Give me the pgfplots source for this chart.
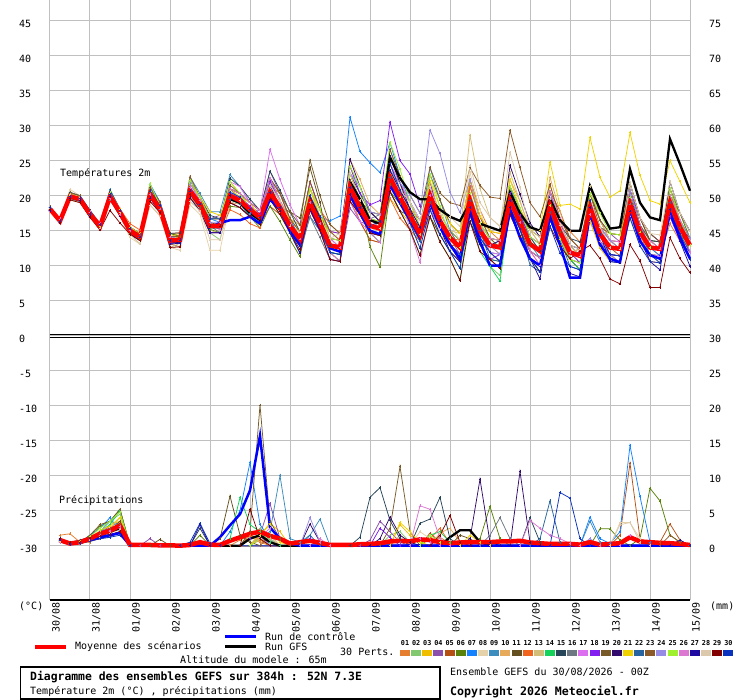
\documentclass[border=0pt]{standalone}
\usepackage{pgfplots}
\usepackage{pgfplotstable}
\pgfplotsset{compat=1.18}
\usepackage{fontspec}
\setmainfont{DejaVu Sans Mono}
\definecolor{gridgray}{RGB}{192,192,192}
\definecolor{ctrlblue}{RGB}{0,0,255}
\definecolor{meanred}{RGB}{255,0,0}
\definecolor{c01}{RGB}{230,126,48}
\definecolor{c02}{RGB}{130,200,110}
\definecolor{c03}{RGB}{240,190,0}
\definecolor{c04}{RGB}{140,80,170}
\definecolor{c05}{RGB}{180,80,20}
\definecolor{c06}{RGB}{90,130,10}
\definecolor{c07}{RGB}{20,130,255}
\definecolor{c08}{RGB}{230,210,170}
\definecolor{c09}{RGB}{60,140,190}
\definecolor{c10}{RGB}{230,170,90}
\definecolor{c11}{RGB}{100,80,30}
\definecolor{c12}{RGB}{240,100,30}
\definecolor{c13}{RGB}{210,190,120}
\definecolor{c14}{RGB}{20,210,90}
\definecolor{c15}{RGB}{40,70,90}
\definecolor{c16}{RGB}{110,120,130}
\definecolor{c17}{RGB}{220,110,240}
\definecolor{c18}{RGB}{130,30,240}
\definecolor{c19}{RGB}{120,90,40}
\definecolor{c20}{RGB}{50,10,110}
\definecolor{c21}{RGB}{240,210,0}
\definecolor{c22}{RGB}{40,100,160}
\definecolor{c23}{RGB}{140,90,40}
\definecolor{c24}{RGB}{150,140,230}
\definecolor{c25}{RGB}{160,240,50}
\definecolor{c26}{RGB}{220,120,210}
\definecolor{c27}{RGB}{30,10,160}
\definecolor{c28}{RGB}{220,200,170}
\definecolor{c29}{RGB}{130,0,0}
\definecolor{c30}{RGB}{10,50,190}
\newcommand\ft{\fontsize{10pt}{12pt}\selectfont}
\pgfplotsset{mem/.style={line width=0.75pt, mark=+, mark size=1.4pt, mark options={line width=0.5pt}}}

% 2 m temperature, one row per run, 6-hourly from 30/08 00Z to 15/09 00Z
\pgfplotstableread[header=false]{
p01 18.1 16.7 20.4 19.8 17.6 15.6 20.4 17.6 15.5 14.6 19.7 18.1 14.6 14.2 21.7 19.8 16.7 16.7 19.0 18.3 17.0 15.9 21.5 20.3 16.7 15.8 21.0 17.0 14.9 13.6 20.2 16.3 13.7 13.3 24.6 20.8 18.1 16.5 18.0 15.4 13.0 11.6 22.3 18.0 14.9 13.6 17.3 14.2 11.1 10.1 19.6 16.8 14.9 13.4 16.3 13.5 11.6 10.4 20.8 15.8 12.6 11.4 16.0 13.5 10.9
p02 18.1 16.1 19.4 19.2 17.1 15.1 20.2 18.1 15.3 14.1 21.2 18.6 13.1 13.2 19.7 17.8 14.7 13.7 19.0 19.3 18.0 15.9 22.5 19.3 14.7 11.8 18.0 15.0 11.9 11.6 23.2 21.3 17.7 17.3 26.6 21.8 17.1 13.5 17.0 14.4 12.0 9.6 17.3 13.0 9.9 8.6 18.3 16.2 14.1 12.1 20.6 15.8 11.9 10.4 19.3 14.5 11.6 10.4 16.8 13.8 13.6 13.4 22.0 17.5 13.9
p03 18.3 16.4 20.4 19.5 17.4 15.9 19.4 17.6 15.0 13.6 20.7 18.6 14.1 14.7 21.2 18.8 16.7 16.7 22.0 20.3 19.0 16.9 19.5 17.3 14.7 12.8 20.0 17.0 14.9 14.6 21.2 17.3 14.7 13.3 19.6 17.8 16.1 14.5 23.0 19.4 16.0 14.6 20.3 15.0 12.9 11.6 21.3 18.2 15.1 14.1 21.6 16.8 11.9 11.4 16.3 12.5 10.6 10.4 19.8 16.8 14.6 13.4 21.0 16.5 12.9
p04 17.9 16.6 20.2 19.7 17.7 15.9 19.9 17.1 14.5 14.1 19.2 17.6 13.6 14.2 22.2 19.8 16.7 17.2 21.0 20.3 18.0 17.9 23.5 20.3 16.7 13.8 17.0 15.0 11.9 10.6 18.2 16.3 15.7 16.3 23.6 20.8 19.1 16.5 21.0 16.4 14.0 11.6 17.3 14.0 11.9 10.6 20.3 17.2 14.1 13.1 17.6 13.8 10.9 9.4 20.3 16.5 14.6 13.4 17.8 13.8 11.6 10.4 20.0 15.5 11.9
p05 18.1 16.4 19.6 19.3 17.2 15.3 19.4 17.1 14.5 13.6 20.7 18.1 13.1 12.7 19.7 18.3 15.7 15.7 20.5 19.3 17.0 15.9 18.5 17.3 15.7 14.8 21.0 18.0 13.9 12.6 19.2 16.3 13.7 13.3 23.6 21.8 19.1 15.5 19.0 15.4 13.0 12.6 21.3 17.0 13.9 13.6 18.3 14.2 12.1 11.1 20.6 17.8 13.9 12.4 17.3 14.5 12.6 11.4 21.8 16.8 13.6 12.4 20.0 17.5 14.9
p06 18.4 16.6 19.9 19.7 17.4 15.6 20.4 18.1 15.5 14.6 21.2 18.6 14.6 14.2 20.7 18.8 15.2 14.7 18.5 18.3 17.0 15.4 18.5 16.3 13.7 11.3 18.0 16.0 11.9 10.6 22.2 19.3 12.7 9.8 20.6 18.8 16.1 14.5 21.0 17.4 15.0 13.6 17.3 13.0 10.9 10.6 19.3 17.2 15.1 14.1 19.6 14.8 10.9 10.4 21.3 16.5 13.6 12.4 17.8 13.8 11.6 11.4 21.0 17.5 13.9
p07 17.8 16.2 20.3 20.0 17.9 16.1 20.4 17.6 15.0 14.1 21.7 19.1 14.1 13.7 21.7 19.8 16.7 16.2 20.0 18.8 17.5 15.9 21.5 19.3 16.7 13.8 20.0 17.0 16.4 17.1 31.2 26.3 24.7 23.3 27.6 22.8 19.1 16.5 19.0 15.4 13.0 10.6 16.3 13.0 12.9 13.6 21.3 17.2 12.1 11.1 17.6 14.8 12.9 12.4 18.3 13.5 10.6 10.4 20.8 15.8 12.6 11.4 18.0 14.5 11.9
p08 18.1 16.7 20.9 20.0 17.7 15.6 19.6 17.1 14.0 13.1 19.2 17.6 12.6 12.2 18.7 17.3 12.2 12.2 19.0 18.3 18.0 16.9 21.5 19.3 14.7 12.8 20.0 18.0 14.9 13.6 24.2 20.3 15.7 14.3 22.6 19.8 16.1 12.5 22.0 19.4 16.0 13.6 23.3 18.0 12.9 12.6 18.3 15.2 11.1 10.1 16.6 13.8 10.9 10.4 19.3 15.5 13.6 13.4 18.8 14.8 13.6 12.4 17.0 14.5 12.9
p09 18.3 16.4 20.1 19.5 17.4 15.1 20.9 18.1 15.5 14.1 20.2 18.1 13.6 13.7 22.7 20.3 17.7 17.7 23.0 21.3 19.0 17.9 22.5 19.3 15.7 12.8 17.0 15.0 12.9 12.6 22.2 19.3 16.7 15.3 21.6 19.8 17.1 15.5 24.0 19.4 15.0 12.6 18.3 14.0 11.9 11.6 20.3 16.2 13.1 11.1 20.6 15.8 12.9 11.4 17.3 13.5 11.6 11.4 19.8 14.8 12.6 12.4 18.0 13.5 10.9
p10 17.9 16.1 19.4 19.0 16.9 15.1 19.9 17.6 15.0 14.6 19.7 17.6 14.1 14.2 19.7 18.8 15.7 15.7 19.0 18.8 18.5 17.4 19.5 17.3 16.7 14.8 19.0 16.0 13.9 13.6 25.2 22.3 18.7 17.3 22.6 18.8 16.1 13.5 18.0 14.4 13.0 11.6 20.3 16.0 13.9 12.6 22.3 19.2 15.1 13.1 22.6 17.8 12.9 11.4 19.3 14.5 12.6 12.4 16.8 12.8 11.6 11.4 19.0 15.5 12.9
p11 18.1 16.2 19.9 19.3 17.1 15.6 19.4 17.3 14.7 13.6 20.5 18.6 13.6 13.2 21.2 18.8 16.2 15.7 21.0 20.3 19.0 17.9 20.5 18.3 17.7 16.8 24.0 19.0 11.9 11.6 19.2 17.3 16.7 16.3 24.6 20.8 18.1 14.5 17.0 14.4 12.0 10.6 19.3 15.0 11.9 10.6 20.3 17.2 13.1 12.1 17.6 13.8 10.9 9.4 19.3 15.5 13.6 13.4 21.8 16.8 13.6 13.4 18.0 14.5 12.9
p12 18.4 16.7 19.7 19.5 17.7 16.1 19.9 18.1 16.0 15.1 20.2 18.1 14.6 14.7 20.2 17.8 14.7 14.7 18.0 17.3 16.0 15.4 21.5 19.3 16.7 14.8 22.0 18.0 15.9 14.6 23.2 19.3 14.7 14.3 19.6 16.8 15.1 13.5 20.0 16.4 14.0 13.6 21.3 17.0 14.9 14.6 19.3 15.2 12.1 10.1 17.6 13.8 11.9 12.4 20.3 16.5 13.6 12.4 17.8 14.8 10.6 10.4 18.0 14.5 11.9
p13 17.8 16.1 20.1 19.8 17.4 15.6 20.2 17.9 14.5 13.1 18.7 17.1 12.6 13.2 21.2 19.3 14.7 15.2 21.0 20.3 18.0 16.9 22.0 19.3 16.7 15.8 21.0 18.0 14.9 14.6 24.2 21.3 17.7 16.3 25.6 21.8 17.1 14.5 22.0 17.4 15.0 14.6 28.6 21.0 16.9 15.6 23.3 19.2 15.1 13.1 19.6 14.8 11.9 12.4 21.3 16.5 13.6 13.4 19.8 14.8 12.6 12.4 21.0 16.5 13.9
p14 18.1 16.6 20.2 19.8 17.7 15.6 20.2 17.6 15.0 14.1 20.7 18.1 14.1 13.7 20.7 19.3 15.7 16.2 19.5 19.3 17.0 15.9 19.5 17.3 14.7 12.8 19.0 16.0 11.9 11.6 21.2 17.3 14.7 13.3 20.6 17.8 15.1 11.5 17.0 13.4 11.0 7.9 17.3 12.0 9.9 7.8 18.3 15.2 11.1 9.1 16.6 12.8 10.9 9.4 17.3 13.5 11.6 10.4 18.8 14.8 12.6 12.4 20.0 16.5 12.9
p15 18.3 16.7 20.5 20.0 17.9 15.9 20.7 18.1 15.5 14.6 21.2 19.1 14.6 14.7 22.2 19.8 17.2 16.7 22.5 21.3 19.5 17.9 23.5 20.8 17.7 14.8 20.0 16.0 12.9 12.6 23.2 20.3 17.7 16.3 20.6 17.8 17.1 13.5 21.0 16.4 14.0 12.6 18.3 14.0 13.9 13.6 21.3 18.2 14.1 12.1 18.6 15.8 13.9 13.4 19.3 14.5 12.6 12.4 20.8 15.8 13.6 13.4 19.0 15.5 13.9
p16 17.9 16.4 19.6 19.2 17.1 15.3 19.4 17.1 14.5 13.6 19.7 18.1 13.1 13.7 20.7 18.8 15.7 14.7 21.0 19.3 18.0 16.9 22.5 19.3 14.7 11.8 17.0 14.0 10.9 10.6 22.2 19.3 16.7 17.3 23.6 19.8 18.1 15.5 18.0 15.4 15.0 12.6 19.3 16.0 13.9 13.6 17.3 14.2 12.1 11.1 19.6 15.8 10.9 10.4 17.3 14.5 12.6 12.4 18.8 13.8 11.6 11.4 20.0 15.5 11.9
p17 18.1 16.4 19.9 19.5 17.6 16.1 20.4 18.1 15.5 14.1 21.2 19.1 14.1 14.2 21.7 19.8 16.7 16.7 22.0 21.3 19.0 17.9 26.6 22.3 18.7 15.8 20.0 16.0 13.9 12.6 19.2 16.3 14.7 13.3 24.6 21.8 19.1 16.5 20.0 16.4 13.0 11.6 20.3 15.0 11.9 11.6 17.3 14.2 12.1 10.1 19.6 15.8 11.9 11.4 19.3 15.5 13.6 13.4 17.8 13.8 11.6 11.4 18.0 14.5 10.9
p18 18.1 16.6 19.7 19.5 17.4 15.3 19.9 17.6 15.0 14.1 19.7 17.6 13.1 13.7 21.2 19.3 15.7 15.7 20.0 19.8 18.5 17.4 22.0 19.3 15.7 14.8 22.0 18.0 14.9 14.6 24.2 20.3 18.7 19.3 30.5 25.0 23.1 18.5 22.0 16.4 13.0 11.6 17.3 13.0 10.9 11.6 20.3 17.2 14.1 13.1 16.6 13.8 11.9 10.4 18.3 14.5 11.6 11.4 20.8 16.8 14.6 13.4 17.0 13.5 11.9
p19 18.3 16.4 20.1 19.7 17.4 15.6 19.7 17.6 15.0 13.8 20.5 18.1 13.6 13.7 20.2 18.3 16.7 16.7 21.5 20.3 19.0 17.9 22.5 20.3 17.7 15.8 25.1 20.0 15.9 14.6 22.2 18.3 14.7 14.3 21.6 18.8 17.1 15.5 23.0 19.4 16.0 14.6 22.3 17.0 13.9 12.6 18.3 15.2 12.1 11.1 18.6 14.8 11.9 11.4 20.3 16.5 14.6 14.4 21.8 16.8 14.6 13.4 21.0 16.5 13.9
p20 17.9 16.2 19.9 19.2 16.9 15.6 19.9 17.1 15.0 14.6 20.7 18.6 13.6 13.2 19.7 17.8 14.7 14.7 20.0 19.3 18.0 16.4 19.5 17.8 15.7 13.8 18.0 15.0 13.9 13.6 25.2 21.3 17.7 16.3 25.6 21.8 18.1 13.5 19.0 15.4 12.0 10.6 16.3 13.0 12.9 13.6 24.3 20.2 16.1 14.1 20.6 15.8 12.9 12.4 17.3 13.5 11.6 11.4 19.8 15.8 12.6 12.4 22.0 17.5 14.9
p21 18.1 16.4 20.4 19.8 17.7 15.9 20.4 18.1 15.5 14.6 20.2 18.1 13.6 14.2 21.7 19.8 17.7 17.2 21.0 19.8 19.0 16.9 20.5 18.3 16.7 14.8 21.0 17.0 13.9 13.6 23.2 19.3 16.7 15.3 23.6 19.8 18.1 15.5 22.0 18.4 16.0 14.6 22.3 17.0 14.9 14.6 22.3 18.2 15.1 15.1 24.8 18.6 18.8 18.1 28.3 22.6 19.8 20.7 29.0 22.9 19.3 18.8 25.0 22.0 19.0
p22 18.1 16.1 19.6 19.2 17.4 15.6 19.9 17.9 15.0 14.4 20.2 18.1 14.1 14.2 21.2 18.8 15.7 15.7 19.5 18.8 17.0 15.9 20.5 18.3 14.7 12.8 18.0 15.0 11.9 11.6 20.2 18.3 15.7 15.3 22.6 18.8 16.1 13.5 19.0 15.4 13.0 11.6 19.3 15.0 10.9 10.6 18.3 15.2 10.1 9.1 17.6 13.8 9.9 9.4 18.3 15.5 12.6 12.4 19.8 14.8 11.6 10.4 19.0 14.5 11.9
p23 18.4 16.7 20.4 20.0 17.4 15.6 20.4 17.9 14.5 14.1 21.2 19.1 14.1 14.2 22.7 19.8 16.7 16.7 21.0 20.3 19.0 17.9 22.5 20.3 16.7 14.8 22.0 18.0 14.9 13.6 23.2 19.3 17.7 17.3 26.6 22.8 20.1 17.5 24.0 20.4 19.0 18.6 24.0 21.5 19.8 19.6 29.3 24.0 19.0 17.0 21.6 16.8 13.9 12.4 20.3 15.5 14.6 14.4 20.8 15.8 13.6 12.4 20.0 15.5 12.9
p24 17.8 16.4 19.9 19.7 17.4 15.9 19.9 17.6 15.3 14.1 20.7 18.1 13.6 13.7 21.7 19.3 16.2 16.2 20.5 19.3 18.0 16.9 22.5 19.3 15.7 12.8 19.0 16.0 13.9 13.6 23.2 21.3 17.7 17.3 23.6 21.8 20.1 17.5 29.4 26.0 20.5 17.6 22.3 16.0 12.9 11.6 18.3 15.2 14.1 13.1 20.6 15.8 11.9 11.4 18.3 15.5 13.6 12.4 20.8 15.8 12.6 12.4 20.0 16.5 13.9
p25 18.1 16.4 20.1 19.5 17.6 15.6 20.4 17.6 15.0 14.1 21.7 18.6 13.6 13.7 22.2 19.8 16.7 16.7 22.0 20.3 18.0 16.9 21.5 18.3 15.7 14.8 21.0 18.0 13.9 13.6 24.2 21.3 16.7 16.3 27.6 23.8 19.1 15.5 23.0 18.4 14.0 12.6 20.3 16.0 13.9 13.6 21.3 18.2 14.1 13.1 18.6 13.8 10.9 10.4 20.3 17.5 14.6 14.4 19.8 14.8 12.6 12.4 21.0 16.5 12.9
p26 18.1 16.7 20.2 19.5 17.7 15.9 19.6 17.3 15.0 14.1 20.2 18.6 14.1 13.7 21.2 19.3 15.7 15.2 21.0 20.3 19.0 17.9 22.5 19.3 15.7 13.8 20.0 16.0 11.9 10.6 21.2 19.3 16.7 15.3 24.6 20.8 15.1 10.5 18.0 15.4 13.0 10.6 18.3 14.0 13.9 13.6 19.3 16.2 12.1 11.1 20.6 16.8 11.9 11.4 17.3 13.5 11.6 10.4 17.8 13.8 13.6 12.4 20.0 16.5 11.9
p27 17.9 16.1 19.7 19.3 17.1 15.3 19.9 17.6 14.5 13.6 19.7 17.6 13.1 13.2 20.7 18.8 14.7 14.7 19.0 18.3 17.0 15.9 21.5 18.3 14.7 11.8 18.0 15.0 10.9 10.6 20.2 17.3 14.7 14.3 23.6 20.8 18.1 15.5 21.0 16.4 13.0 10.6 17.3 13.0 10.9 9.6 18.3 15.2 11.1 8.1 16.6 12.8 8.9 8.4 18.3 14.5 10.6 10.4 17.8 13.8 10.6 9.4 18.0 13.5 9.9
p28 18.3 16.4 20.2 19.8 17.4 15.3 20.2 17.6 14.5 13.1 18.7 17.1 12.6 12.7 19.2 17.8 13.7 13.7 19.0 19.3 18.0 16.9 21.5 19.3 15.7 14.8 20.0 17.0 13.9 14.6 23.2 19.3 15.7 15.3 24.6 20.8 19.1 16.5 21.0 17.4 17.0 15.6 24.3 19.0 16.9 15.6 26.2 21.2 15.1 14.1 19.6 15.8 12.9 12.4 19.3 15.5 12.6 12.4 21.8 16.8 14.6 14.4 22.0 17.5 14.9
p29 18.1 16.1 19.4 19.0 16.9 15.1 17.9 16.1 14.5 13.6 19.2 17.6 12.6 12.7 20.2 18.8 15.7 15.7 19.0 18.3 17.0 15.9 19.5 17.3 14.7 12.3 18.0 15.0 10.9 10.6 19.2 17.3 14.7 14.3 20.6 17.8 15.1 11.5 17.0 13.4 11.0 7.9 16.3 12.0 10.9 9.6 17.3 14.2 11.1 9.1 15.6 12.8 11.0 12.1 12.9 11.0 8.1 7.4 13.0 10.7 6.9 6.9 14.0 11.0 9.0
p30 18.3 16.4 19.9 19.7 17.4 15.9 20.2 17.9 15.3 14.1 20.7 18.6 13.6 13.7 20.7 18.8 16.7 16.7 20.5 19.8 18.0 16.9 20.5 18.3 14.7 12.8 20.0 17.0 11.9 11.6 21.2 18.3 15.7 16.3 24.6 20.8 16.1 12.5 18.0 14.4 12.0 9.6 18.3 14.0 11.9 10.6 19.3 15.2 11.1 9.1 15.6 11.8 9.9 9.4 19.3 14.5 11.6 11.4 16.8 12.8 10.6 10.4 18.0 14.5 10.9
ctrl 18.1 16.4 19.8 19.5 17.3 15.5 19.8 17.4 14.9 14.0 20.0 18.0 13.5 13.5 20.5 18.5 15.5 16.1 16.5 16.5 17.0 16.0 19.5 18.0 15.0 13.0 18.5 15.5 12.5 12.0 20.0 17.5 15.0 14.5 21.5 19.0 16.5 14.0 19.0 15.5 13.0 11.0 18.0 13.5 10.0 10.0 18.0 14.0 11.0 10.0 17.0 13.0 8.3 8.3 17.5 13.0 11.0 10.5 18.0 13.5 11.5 11.0 17.5 14.0 11.0
gfs 18.0 16.3 19.8 19.4 17.3 15.5 20.0 17.5 15.0 14.0 20.0 18.0 13.5 13.5 20.5 18.5 15.5 15.5 19.5 19.0 17.5 16.5 20.0 18.0 15.5 13.5 19.5 16.5 13.0 12.5 22.0 19.5 16.5 16.0 25.5 22.5 20.5 19.5 19.5 18.0 17.0 16.4 19.0 16.0 15.5 15.0 20.5 17.5 15.5 15.0 19.5 16.5 15.0 15.0 21.4 18.0 15.3 15.5 23.8 19.0 16.9 16.5 28.1 24.5 20.7
mean 18.1 16.4 19.9 19.5 17.4 15.6 19.9 17.6 15.0 14.1 20.2 18.1 13.6 13.7 20.7 18.8 15.7 15.7 20.0 19.3 18.0 16.9 20.5 18.3 15.7 13.8 19.0 16.0 12.9 12.6 21.2 18.3 15.7 15.3 22.6 19.8 17.1 14.5 20.0 16.4 14.0 12.6 19.3 15.0 12.9 12.6 19.3 16.2 13.1 12.1 18.6 14.8 11.9 11.4 18.3 14.5 12.6 12.4 18.8 14.8 12.6 12.4 19.0 15.5 12.9
}\rawT
\pgfplotstabletranspose[colnames from=0]{\Ttemp}{\rawT}

\begin{document}
\begin{tikzpicture}[x=1pt,y=1pt]
\useasboundingbox (0,0) rectangle (740,700);

% ---------- temperature axis (left scale)
\begin{axis}[
  at={(50pt,100pt)}, anchor=south west,
  scale only axis, width=640pt, height=600pt,
  xmin=0, xmax=16, ymin=-37.76, ymax=47.96,
  xtick={0,...,16}, ytick={-30,-25,...,45},
  xticklabels={}, yticklabels={},
  tick style={draw=none},
  axis line style={draw=none},
  grid=major, grid style={color=gridgray, line width=1pt},
  clip=false,
]
\draw[black, line width=1pt] (axis cs:0,0.22) -- (axis cs:16,0.22);
\draw[black, line width=1pt] (axis cs:0,-0.22) -- (axis cs:16,-0.22);
\draw[black, line width=1.6pt] (axis cs:0,-37.76) -- (axis cs:16,-37.76);
\pgfplotsinvokeforeach{01,02,03,04,05,06,07,08,09,10,11,12,13,14,15,16,17,18,19,20,21,22,23,24,25,26,27,28,29,30}{
  \addplot[mem, color=c#1] table[x expr=\coordindex*0.25, y=p#1] {\Ttemp};
}
\addplot[black, line width=2.3pt, mark=none] table[x expr=\coordindex*0.25, y=gfs] {\Ttemp};
\addplot[ctrlblue, line width=2.5pt, mark=none] table[x expr=\coordindex*0.25, y=ctrl] {\Ttemp};
\addplot[meanred, line width=4.5pt, mark=none] table[x expr=\coordindex*0.25, y=mean] {\Ttemp};
\end{axis}

% ---------- precipitation axis (right scale, mm)
\begin{axis}[
  at={(50pt,100pt)}, anchor=south west,
  scale only axis, width=640pt, height=600pt,
  xmin=0, xmax=16, ymin=-7.76, ymax=77.96,
  hide axis, clip=false,
]
\addplot[mem,c01] coordinates {(0.25,1.5)(0.5,1.7)(0.75,0.5)(1,0.5)(1.25,1.5)(1.5,2.5)(1.75,3.5)(2,0)(4.5,0)(4.75,0.8)(5,1.5)(5.25,0.5)(5.5,0)(9.5,0)(9.75,1.2)(10,0.3)(10.25,0)(16,0)};
\addplot[mem,c02] coordinates {(0.25,0.5)(0.5,0.2)(0.75,0.3)(1,1.5)(1.25,2.5)(1.5,3.5)(1.75,4.5)(2,0)(4.75,0)(5,1.2)(5.25,2.5)(5.5,0.8)(5.75,0)(8.25,0)(8.5,1.5)(8.75,2)(9,0.5)(9.25,0)(16,0)};
\addplot[mem,c03] coordinates {(0.25,0.6)(0.5,0.3)(0.75,0.5)(1,1)(1.25,2)(1.5,3)(1.75,3.5)(2,0)(5,0)(5.25,1.5)(5.5,3.2)(5.75,2)(6,0)(8.5,0)(8.75,3)(9,1.5)(9.25,0.5)(9.5,0)(16,0)};
\addplot[mem,c04] coordinates {(0.25,0.8)(0.5,0.2)(0.75,0.8)(1,1.2)(1.25,1.5)(1.5,1.8)(1.75,2.5)(2,0)(2.25,0)(2.5,1)(2.75,0)(5,0)(5.25,1.5)(5.5,6)(5.75,1)(6,0)(7.75,0)(8,0.8)(8.25,3.5)(8.5,2)(8.75,0.5)(9,0)(16,0)};
\addplot[mem,c05] coordinates {(0.25,0.5)(0.5,0.5)(0.75,0.3)(1,0.8)(1.25,1)(1.5,1.5)(1.75,2)(2,0)(5,0)(5.25,1)(5.5,0)(9.25,0)(9.5,1.8)(9.75,0.5)(10,0)(14,0)(14.25,1.5)(14.5,11.8)(14.75,1)(15,0.3)(15.25,0.5)(15.5,3.1)(15.75,0.8)(16,0)};
\addplot[mem,c06] coordinates {(0.25,0.7)(0.5,0.3)(0.75,0.6)(1,1.2)(1.25,2.8)(1.5,3.5)(1.75,5.2)(2,0)(3.5,0)(3.75,1.5)(4,0)(10.5,0)(10.75,1)(11,5.6)(11.25,1)(11.5,0)(13.5,0)(13.75,2.4)(14,2.4)(14.25,0.8)(14.5,0)(14.75,1)(15,8.2)(15.25,6.4)(15.5,1.5)(15.75,0.5)(16,0)};
\addplot[mem,c07] coordinates {(0.25,0.8)(0.5,0.4)(0.75,0.5)(1,1.5)(1.25,2.5)(1.5,4)(1.75,2)(2,0)(4.25,0)(4.5,2)(4.75,5)(5,11.9)(5.25,3)(5.5,1)(5.75,0)(13.25,0)(13.5,4.1)(13.75,1)(14,0.3)(14.25,2)(14.5,14.3)(14.75,7)(15,0.5)(15.25,0)(16,0)};
\addplot[mem,c08] coordinates {(0.25,0.5)(0.5,0.2)(0.75,0.3)(1,0.8)(1.25,1.2)(1.5,2)(1.75,2.5)(2,0)(5,0)(5.25,1)(5.5,0.5)(5.75,0)(9,0)(9.25,2)(9.5,1)(9.75,0)(14,0)(14.25,3.3)(14.5,3.3)(14.75,1)(15,0)(16,0)};
\addplot[mem,c09] coordinates {(0.25,1)(0.5,0.3)(0.75,0.5)(1,1)(1.25,2)(1.5,3.5)(1.75,3)(2,0)(5,0)(5.25,1)(5.5,2)(5.75,10)(6,1)(6.25,0.5)(6.5,1.5)(6.75,3.8)(7,0)(13.25,0)(13.5,3.5)(13.75,0.5)(14,0)(16,0)};
\addplot[mem,c10] coordinates {(0.25,0.6)(0.5,0.2)(0.75,0.4)(1,0.6)(1.25,1)(1.5,1.5)(1.75,2)(2,0)(5,0)(5.25,0.8)(5.5,1.5)(5.75,0)(9.5,0)(9.75,1.8)(10,2.5)(10.25,0.5)(10.5,0)(16,0)};
\addplot[mem,c11] coordinates {(0.25,0.8)(0.5,0.5)(0.75,0.5)(1,1)(1.25,1.5)(1.5,2)(1.75,3.5)(2,0)(2.5,0)(2.75,0.9)(3,0)(4,0)(4.25,1)(4.5,7.1)(4.75,1.5)(5,0.5)(5.25,0)(10,0)(10.25,1.5)(10.5,1)(10.75,0)(16,0)};
\addplot[mem,c12] coordinates {(0.25,0.9)(0.5,0.4)(0.75,0.6)(1,0.8)(1.25,1.8)(1.5,2.8)(1.75,2.5)(2,0)(4.75,0)(5,1.5)(5.25,0.8)(5.5,0)(9.25,0)(9.5,1)(9.75,2.5)(10,0.3)(10.25,0)(16,0)};
\addplot[mem,c13] coordinates {(0.25,0.5)(0.5,0.3)(0.75,0.5)(1,1.2)(1.25,1.5)(1.5,2.5)(1.75,4)(2,0)(5,0)(5.25,2)(5.5,1)(5.75,0)(8.5,0)(8.75,1.5)(9,0.5)(9.25,0)(16,0)};
\addplot[mem,c14] coordinates {(0.25,0.7)(0.5,0.2)(0.75,0.4)(1,1)(1.25,2)(1.5,3)(1.75,5)(2,0)(4.25,0)(4.5,1)(4.75,6.9)(5,3)(5.25,2)(5.5,0.5)(5.75,0)(9.25,0)(9.5,1.5)(9.75,2)(10,0.5)(10.25,0)(16,0)};
\addplot[mem,c15] coordinates {(0.25,1)(0.5,0.5)(0.75,0.8)(1,1.2)(1.25,1.5)(1.5,1.8)(1.75,3)(2,0)(3.5,0)(3.75,2.5)(4,0)(7.5,0)(7.75,1.2)(8,6.9)(8.25,8.3)(8.5,3.6)(8.75,1)(9,0)(9.25,3.2)(9.5,3.8)(9.75,6.9)(10,1)(10.25,0)(11.75,0)(12,4)(12.25,0.5)(12.5,0)(16,0)};
\addplot[mem,c16] coordinates {(0.25,0.6)(0.5,0.3)(0.75,0.3)(1,0.6)(1.25,1)(1.5,1.2)(1.75,2)(2,0)(10.75,0)(11,1.5)(11.25,4)(11.5,1)(11.75,0)(16,0)};
\addplot[mem,c17] coordinates {(0.25,0.5)(0.5,0.3)(0.75,0.5)(1,0.8)(1.25,1.5)(1.5,2.2)(1.75,2.8)(2,0)(5,0)(5.25,1.2)(5.5,2.5)(5.75,1)(6,0)(9,0)(9.25,1)(9.5,0.5)(9.75,0)(14.25,0)(14.5,1.5)(14.75,0.5)(15,0)(16,0)};
\addplot[mem,c18] coordinates {(0.25,0.8)(0.5,0.2)(0.75,0.5)(1,1)(1.25,2)(1.5,2.5)(1.75,3)(2,0)(4.75,0)(5,1)(5.25,1.5)(5.5,0)(6.25,0)(6.5,1)(6.75,0)(8,0)(8.25,2.5)(8.5,1.2)(8.75,0)(16,0)};
\addplot[mem,c19] coordinates {(0.25,0.9)(0.5,0.3)(0.75,0.5)(1,1.5)(1.25,3)(1.5,3.5)(1.75,5.2)(2,0)(4.75,0)(5,2)(5.25,20.1)(5.5,3.5)(5.75,1)(6,0)(8.25,0)(8.5,2.5)(8.75,11.3)(9,2)(9.25,0)(16,0)};
\addplot[mem,c20] coordinates {(0.25,1)(0.5,0.2)(0.75,0.4)(1,0.8)(1.25,1)(1.5,1.5)(1.75,2)(2,0)(6.25,0)(6.5,3.1)(6.75,0.5)(7,0)(8,0)(8.25,1)(8.5,4.1)(8.75,1.5)(9,0.5)(9.25,0)(10.25,0)(10.5,1)(10.75,9.5)(11,0.5)(11.25,0)(11.5,0)(11.75,10.6)(12,0.5)(12.25,0)(16,0)};
\addplot[mem,c21] coordinates {(0.25,0.6)(0.5,0.3)(0.75,0.6)(1,1)(1.25,2.2)(1.5,2.8)(1.75,4)(2,0)(5,0)(5.25,1.5)(5.5,3)(5.75,0.5)(6,0)(8.5,0)(8.75,3.3)(9,2)(9.25,0.5)(9.5,0)(10.25,0)(10.5,1.5)(10.75,0.5)(11,0)(16,0)};
\addplot[mem,c22] coordinates {(0.25,0.8)(0.5,0.3)(0.75,0.5)(1,0.9)(1.25,1.2)(1.5,2)(1.75,2.5)(2,0)(6.25,0)(6.5,1.5)(6.75,0)(12,0)(12.25,1)(12.5,6.4)(12.75,0.5)(13,0)(16,0)};
\addplot[mem,c23] coordinates {(0.25,0.6)(0.5,0.4)(0.75,0.5)(1,1.1)(1.25,1.8)(1.5,2.5)(1.75,3)(2,0)(5.25,0)(5.5,1.5)(5.75,0.8)(6,0)(15.25,0)(15.5,1.5)(15.75,0.5)(16,0)};
\addplot[mem,c24] coordinates {(0.25,0.7)(0.5,0.3)(0.75,0.4)(1,0.8)(1.25,1.4)(1.5,2)(1.75,2.5)(2,0)(6.25,0)(6.5,4)(6.75,0.5)(7,0)(13.25,0)(13.5,1)(13.75,0)(16,0)};
\addplot[mem,c25] coordinates {(0.25,0.8)(0.5,0.3)(0.75,0.5)(1,1.3)(1.25,2.5)(1.5,3.5)(1.75,4.8)(2,0)(5,0)(5.25,1)(5.5,0)(9.25,0)(9.5,1.5)(9.75,0.5)(10,0)(16,0)};
\addplot[mem,c26] coordinates {(0.25,0.5)(0.5,0.2)(0.75,0.4)(1,0.9)(1.25,1.5)(1.5,2)(1.75,2.8)(2,0)(6.5,0)(6.75,1)(7,0)(9,0)(9.25,5.7)(9.5,5.2)(9.75,1)(10,0)(11.75,0)(12,3.6)(12.25,2.5)(12.5,1.5)(12.75,1)(13,0.3)(13.25,0)(16,0)};
\addplot[mem,c27] coordinates {(0.25,0.8)(0.5,0.3)(0.75,0.5)(1,0.7)(1.25,1)(1.5,1.5)(1.75,1.8)(2,0)(3.5,0)(3.75,3)(4,0)(15.5,0)(15.75,0.8)(16,0)};
\addplot[mem,c28] coordinates {(0.25,0.6)(0.5,0.3)(0.75,0.4)(1,0.8)(1.25,1.2)(1.5,1.8)(1.75,2.3)(2,0)(14,0)(14.25,3)(14.5,3.3)(14.75,0.5)(15,0)(16,0)};
\addplot[mem,c29] coordinates {(0.25,0.9)(0.5,0.4)(0.75,0.5)(1,1)(1.25,1.3)(1.5,1.6)(1.75,2)(2,0)(4.75,0)(5,5.2)(5.25,1)(5.5,0)(9.5,0)(9.75,1.5)(10,4.3)(10.25,0.5)(10.5,0)(16,0)};
\addplot[mem,c30] coordinates {(0.25,0.8)(0.5,0.2)(0.75,0.3)(1,0.7)(1.25,1)(1.5,1.2)(1.75,1.5)(2,0)(3.25,0)(3.5,0.5)(3.75,3.2)(4,0.3)(4.25,0)(12.5,0)(12.75,7.6)(13,6.8)(13.25,1)(13.5,0)(16,0)};
\addplot[black, line width=2.3pt, mark=none] coordinates {(0.25,0.7)(0.5,0.3)(0.75,0.4)(1,0.9)(1.25,1.5)(1.5,2)(1.75,2.5)(2,0)(4.75,0)(5,1)(5.25,1.5)(5.5,0.5)(5.75,0)(9.75,0)(10,1.2)(10.25,2.2)(10.5,2.2)(10.75,0.5)(11,0)(16,0)};
\addplot[ctrlblue, line width=2.5pt, mark=none] coordinates {(0.25,0.8)(0.5,0.3)(0.75,0.5)(1,0.8)(1.25,1.2)(1.5,1.5)(1.75,1.8)(2,0)(4,0)(4.25,1.2)(4.5,2.9)(4.75,4.5)(5,7.9)(5.25,15.7)(5.5,2.6)(5.75,1)(6,0.3)(6.25,0)(16,0)};
\addplot[meanred, line width=4.5pt, mark=none] coordinates {(0.25,0.8)(0.5,0.3)(0.75,0.5)(1,1.0)(1.25,1.7)(1.5,2.1)(1.75,2.9)(2,0.1)(2.25,0.1)(2.5,0.1)(2.75,0.05)(3,0.05)(3.25,0)(3.5,0.1)(3.75,0.5)(4,0.15)(4.25,0.1)(4.5,0.7)(4.75,1.2)(5,1.7)(5.25,2.0)(5.5,1.4)(5.75,1.0)(6,0.3)(6.25,0.5)(6.5,0.7)(6.75,0.4)(7,0.1)(7.25,0.1)(7.5,0.1)(7.75,0.2)(8,0.25)(8.25,0.35)(8.5,0.6)(8.75,0.7)(9,0.6)(9.25,0.9)(9.5,0.8)(9.75,0.5)(10,0.35)(10.25,0.45)(10.5,0.5)(10.75,0.5)(11,0.5)(11.25,0.6)(11.5,0.6)(11.75,0.7)(12,0.45)(12.25,0.35)(12.5,0.25)(12.75,0.25)(13,0.25)(13.25,0.15)(13.5,0.5)(13.75,0.15)(14,0.25)(14.25,0.35)(14.5,1.2)(14.75,0.6)(15,0.5)(15.25,0.4)(15.5,0.35)(15.75,0.25)(16,0.1)};
\end{axis}

% ---------- scale labels
\foreach \v in {-30,-25,...,45} {
  \node[anchor=west, inner sep=0pt, font=\ft] at (19,{361.3+7*\v}) {\v};
}
\foreach \v [evaluate=\v as \r using int(\v+30)] in {-30,-25,...,45} {
  \node[anchor=west, inner sep=0pt, font=\ft] at (709,{361.3+7*\v}) {\r};
}
\node[anchor=west, inner sep=0pt, font=\ft] at (19,94) {(°C)};
\node[anchor=west, inner sep=0pt, font=\ft] at (710,94) {(mm)};
\foreach \a/\b [count=\k from 0] in {30/08,31/08,01/09,02/09,03/09,04/09,05/09,06/09,07/09,08/09,09/09,10/09,11/09,12/09,13/09,14/09,15/09} {
  \node[rotate=90, anchor=north east, inner sep=0pt, font=\ft] at ({52+40*\k},98) {\a/\b};
}
\node[anchor=west, inner sep=0pt, font=\ft] at (60,526) {Températures 2m};
\node[anchor=west, inner sep=0pt, font=\ft] at (59,199) {Précipitations};

% ---------- legend
\draw[meanred, line width=4.5pt] (35,53) -- (66,53);
\node[anchor=west, inner sep=0pt, font=\ft] at (75,53) {Moyenne des scénarios};
\draw[ctrlblue, line width=3.5pt] (225,63.3) -- (256,63.3);
\node[anchor=west, inner sep=0pt, font=\ft] at (265,63) {Run de contrôle};
\draw[black, line width=3.5pt] (225,53.3) -- (256,53.3);
\node[anchor=west, inner sep=0pt, font=\ft] at (265,53) {Run GFS};
\node[anchor=west, inner sep=0pt, font=\ft] at (180,40) {Altitude du modele : 65m};
\node[anchor=west, inner sep=0pt, font=\ft] at (340,48) {30 Perts.};
\foreach \n [count=\k] in {01,02,03,04,05,06,07,08,09,10,11,12,13,14,15,16,17,18,19,20,21,22,23,24,25,26,27,28,29,30} {
  \fill[c\n] ({400+11.15*(\k-1)},44.3) rectangle ++(10,5.7);
  \node[inner sep=0pt, font=\fontsize{6.8pt}{8pt}\selectfont\bfseries] at ({405+11.15*(\k-1)},57) {\n};
}
\draw[black, line width=1.3pt] (20.5,1) rectangle (440,33);
\node[anchor=west, inner sep=0pt, font=\fontsize{11.4pt}{13pt}\selectfont\bfseries] at (30,23.3) {Diagramme des ensembles GEFS sur 384h : 52N 7.3E};
\node[anchor=west, inner sep=0pt, font=\ft] at (30,8) {Température 2m (°C) , précipitations (mm)};
\node[anchor=west, inner sep=0pt, font=\ft] at (450,28) {Ensemble GEFS du 30/08/2026 - 00Z};
\node[anchor=west, inner sep=0pt, font=\fontsize{11.6pt}{13pt}\selectfont\bfseries] at (450,8) {Copyright 2026 Meteociel.fr};
\end{tikzpicture}
\end{document}
